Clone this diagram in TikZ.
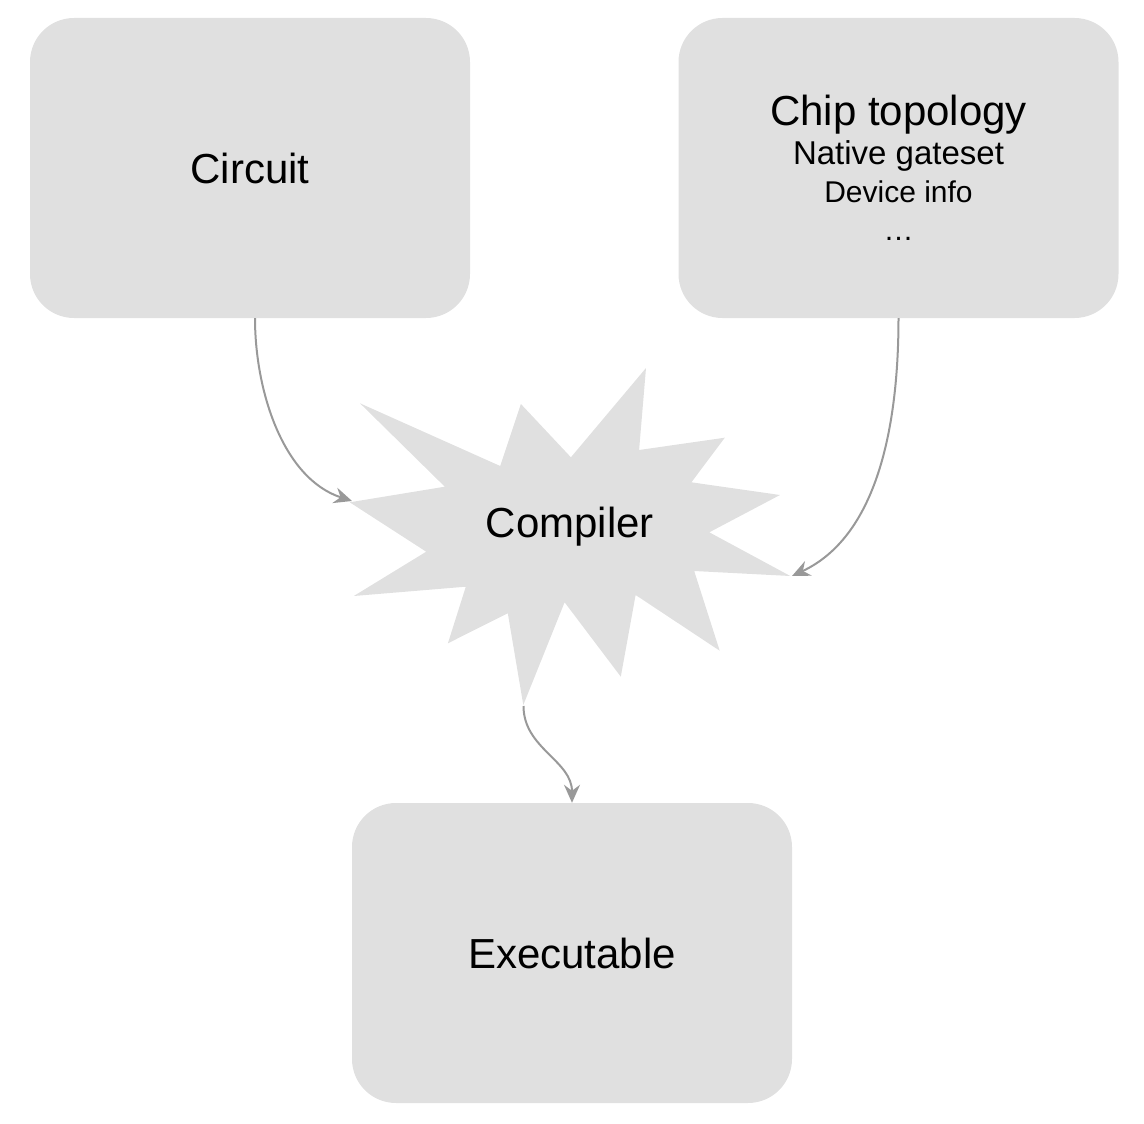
\documentclass[tikz,border=0pt]{standalone}
\usepackage{fontspec}
\setmainfont{Liberation Sans}
\usetikzlibrary{arrows.meta}
\definecolor{boxgray}{HTML}{E0E0E0}
\definecolor{linegray}{HTML}{999999}
\tikzset{
    block/.style={fill=boxgray, rounded corners=44pt, minimum width=440pt, minimum height=300pt, align=center, font=\fontsize{42}{50}\selectfont},
    flow/.style={draw=linegray, line width=2pt, -{Stealth[length=18pt, width=16pt, inset=6pt]}}
}
\begin{document}
\begin{tikzpicture}[x=1pt, y=-1pt]
    \useasboundingbox (0,0) rectangle (1144,1124);

    % Boxes
    \node (circuit) [block] at (250,168) {Circuit};
    \node (chip) [block, font=\fontsize{30}{38}\selectfont] at (898.5,168)
        {{\fontsize{42}{42}\selectfont Chip topology}\\[1pt]{\fontsize{33}{38}\selectfont Native gateset}\\Device info\\…};
    \node (exec) [block] at (572,953) {Executable};

    % Compiler burst
    \fill[boxgray] (360,403.3) -- (500.2,466) -- (520.9,404) -- (570.9,457.3)
        -- (646,368) -- (639.1,450) -- (724.8,437.7) -- (691.4,482.3)
        -- (780,495) -- (709.3,532.3) -- (790.3,576) -- (694.2,571)
        -- (719.7,650.7) -- (635.6,595) -- (620.8,676.7) -- (564.6,602.3)
        -- (523.3,705) -- (507.8,613.3) -- (447.9,643.3) -- (465.8,586.7)
        -- (353.8,596) -- (426.2,551.7) -- (349.7,502.3) -- (444.8,486.7) -- cycle;
    \node (compiler) [font=\fontsize{42}{50}\selectfont] at (570,527) {Compiler};
    \coordinate (burstW) at (352,501);
    \coordinate (burstE) at (792,576);
    \coordinate (burstS) at (523.5,706);

    % Arrows
    \draw[flow] ([xshift=5pt]circuit.south) to[out=-90, in=162, looseness=0.9] (burstW);
    \draw[flow] (chip.south) to[out=-90, in=25, looseness=0.9] (burstE);
    \draw[flow] (burstS) to[out=-90, in=90, looseness=1] (exec.north);
\end{tikzpicture}
\end{document}
